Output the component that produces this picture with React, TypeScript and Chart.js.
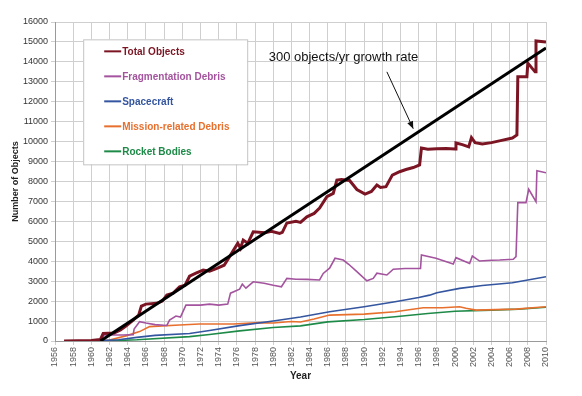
import React, { useEffect, useRef } from "react";
import { Chart, registerables } from "chart.js";

Chart.register(...registerables);

const FONT = "Arial, 'Liberation Sans', Helvetica, sans-serif";

// Year ticks
const xMin = 1956;
const xMax = 2010;
const yMax = 16000;

const totalYears = [1957, 1960, 1961, 1961.3, 1962.5, 1963.2, 1963.8, 1964.6, 1965.2, 1965.5, 1966, 1967.2, 1967.8, 1968.3, 1969, 1969.7, 1970.3, 1970.8, 1971.5, 1972.3, 1973, 1973.8, 1974.6, 1975.2, 1976.1, 1976.4, 1976.7, 1977.2, 1977.8, 1979.1, 1979.8, 1980.7, 1981, 1981.5, 1982.5, 1983, 1983.7, 1984.5, 1985.1, 1985.9, 1986.6, 1987, 1987.5, 1988.4, 1989.2, 1990.1, 1990.8, 1991.4, 1991.8, 1992.4, 1993.1, 1993.9, 1994.6, 1995.4, 1996.1, 1996.3, 1997, 1998, 1999, 2000, 2000.1, 2000.8, 2001.5, 2001.8, 2002.2, 2003, 2004, 2005, 2006.3, 2006.8, 2006.9, 2007.9, 2008, 2008.8, 2008.9, 2010];
const totalValues = [0, 30, 80, 380, 400, 550, 750, 1050, 1300, 1750, 1850, 1890, 2000, 2300, 2400, 2720, 2800, 3250, 3400, 3560, 3500, 3640, 3800, 4230, 4900, 4650, 5060, 4900, 5480, 5430, 5500, 5400, 5450, 5920, 6000, 5950, 6230, 6400, 6670, 7240, 7400, 8070, 8100, 8050, 7600, 7370, 7500, 7820, 7700, 7740, 8320, 8490, 8600, 8700, 8830, 9680, 9620, 9640, 9660, 9630, 9930, 9850, 9740, 10200, 9950, 9880, 9950, 10050, 10180, 10330, 13250, 13250, 13940, 13500, 15050, 15000];

const fragYears = [1957, 1961, 1961.4, 1963.5, 1964.6, 1964.7, 1965.3, 1966, 1967, 1968.3, 1968.6, 1969.3, 1969.8, 1970.4, 1972, 1973, 1974, 1975, 1975.3, 1976.3, 1976.6, 1977, 1977.8, 1979, 1980, 1980.9, 1981.5, 1982.5, 1983.7, 1985.1, 1985.5, 1986.2, 1986.8, 1987.7, 1988.3, 1989.2, 1990.3, 1991, 1991.4, 1992.5, 1993.2, 1994.5, 1996.2, 1996.3, 1997.9, 1999.8, 2000.1, 2001.6, 2001.9, 2002.7, 2004, 2004.9, 2006.4, 2006.7, 2006.9, 2007.8, 2008.1, 2008.9, 2009, 2010];
const fragValues = [0, 0, 300, 300, 320, 600, 970, 900, 820, 780, 1050, 1250, 1200, 1800, 1800, 1850, 1800, 1850, 2400, 2600, 2850, 2650, 2970, 2900, 2800, 2720, 3140, 3100, 3090, 3060, 3390, 3650, 4150, 4060, 3850, 3480, 3020, 3140, 3400, 3310, 3600, 3640, 3640, 4310, 4150, 3860, 4180, 3890, 4260, 4010, 4050, 4060, 4100, 4230, 6940, 6940, 7610, 6990, 8540, 8440];

const scYears = [1957, 1961, 1963, 1965, 1967, 1970.8, 1973, 1976.3, 1980, 1983, 1986.2, 1990, 1993.4, 1996, 1997.2, 1998, 2000.5, 2003, 2006.3, 2010];
const scValues = [0, 20, 60, 180, 280, 380, 530, 770, 1000, 1200, 1470, 1720, 1970, 2180, 2300, 2420, 2640, 2780, 2920, 3220];

const mrdYears = [1957, 1961, 1962, 1963.9, 1965.3, 1966.4, 1969.7, 1971.9, 1975.6, 1978.5, 1980, 1982, 1983, 1984.5, 1986.2, 1990, 1993.4, 1996.5, 1998.6, 2000.5, 2001.2, 2002.3, 2006.7, 2010];
const mrdValues = [0, 0, 50, 270, 470, 720, 800, 850, 850, 920, 900, 980, 950, 1100, 1300, 1350, 1470, 1670, 1670, 1720, 1640, 1550, 1600, 1720];

const rbYears = [1957, 1961, 1965, 1970.8, 1973, 1976.3, 1980, 1983, 1986, 1990, 1993.4, 1997, 2000, 2004, 2007, 2010];
const rbValues = [0, 0, 60, 220, 330, 510, 680, 760, 960, 1080, 1220, 1380, 1490, 1550, 1600, 1690];

const trendYears = [1961, 2010];
const trendValues = [0, 14700];

const seriesNames = ["Total Objects", "Fragmentation Debris", "Spacecraft", "Mission-related Debris", "Rocket Bodies"];
const seriesColors = ["#7B1523", "#A4549E", "#34559F", "#E8702E", "#1E8A48"];

const annotationText = "300 objects/yr growth rate";

const pts = (xs: number[], ys: number[]) => xs.map((x, i) => ({ x, y: ys[i] }));

const legendPlugin = {
  id: "customDecor",
  afterDatasetsDraw(chart: any) {
    const { ctx, scales } = chart;
    const xs = scales.x;
    const ys = scales.y;
    ctx.save();
    // legend box
    const bx = xs.getPixelForValue(1959.1);
    const by = ys.getPixelForValue(15130);
    const bw = 164;
    const bh = 125;
    ctx.fillStyle = "#ffffff";
    ctx.fillRect(bx, by, bw, bh);
    ctx.strokeStyle = "#c4c4c4";
    ctx.lineWidth = 1;
    ctx.strokeRect(bx + 0.5, by + 0.5, bw, bh);
    ctx.font = `bold 10px ${FONT}`;
    ctx.textBaseline = "middle";
    ctx.textAlign = "left";
    seriesNames.forEach((name, i) => {
      const cy = by + 12 + i * 25;
      ctx.strokeStyle = seriesColors[i];
      ctx.lineWidth = 2;
      ctx.beginPath();
      ctx.moveTo(bx + 21, cy);
      ctx.lineTo(bx + 38, cy);
      ctx.stroke();
      ctx.fillStyle = seriesColors[i];
      ctx.fillText(name, bx + 39, cy + 0.5);
    });
    // annotation
    ctx.fillStyle = "#111";
    ctx.font = `13px ${FONT}`;
    ctx.fillText(annotationText, xs.getPixelForValue(1979.5), ys.getPixelForValue(14200));
    const x1 = xs.getPixelForValue(1992.5);
    const y1 = ys.getPixelForValue(13500);
    const x2 = xs.getPixelForValue(1995.4);
    const y2 = ys.getPixelForValue(10650);
    ctx.strokeStyle = "#111";
    ctx.lineWidth = 1;
    ctx.beginPath();
    ctx.moveTo(x1, y1);
    ctx.lineTo(x2, y2);
    ctx.stroke();
    const ang = Math.atan2(y2 - y1, x2 - x1);
    const L = 8;
    ctx.fillStyle = "#111";
    ctx.beginPath();
    ctx.moveTo(x2, y2);
    ctx.lineTo(x2 - L * Math.cos(ang - 0.4), y2 - L * Math.sin(ang - 0.4));
    ctx.lineTo(x2 - L * Math.cos(ang + 0.4), y2 - L * Math.sin(ang + 0.4));
    ctx.closePath();
    ctx.fill();
    ctx.restore();
  },
};

export default function App() {
  const ref = useRef<HTMLCanvasElement>(null);
  useEffect(() => {
    if (!ref.current) return;
    const mk = (label: string, data: any, color: string, width: number, order: number) => ({
      label,
      data,
      borderColor: color,
      backgroundColor: color,
      borderWidth: width,
      pointRadius: 0,
      tension: 0,
      fill: false,
      order,
    });
    const chart = new Chart(ref.current, {
      type: "line",
      data: {
        datasets: [
          mk("300 objects/yr", pts(trendYears, trendValues), "#000000", 3, 0),
          mk(seriesNames[0], pts(totalYears, totalValues), seriesColors[0], 3, 1),
          mk(seriesNames[1], pts(fragYears, fragValues), seriesColors[1], 1.6, 2),
          mk(seriesNames[2], pts(scYears, scValues), seriesColors[2], 1.6, 3),
          mk(seriesNames[3], pts(mrdYears, mrdValues), seriesColors[3], 1.6, 4),
          mk(seriesNames[4], pts(rbYears, rbValues), seriesColors[4], 1.6, 5),
        ],
      },
      options: {
        animation: false,
        responsive: true,
        maintainAspectRatio: false,
        layout: { padding: { top: 22, right: 36, bottom: 0, left: 0 } },
        plugins: { legend: { display: false }, tooltip: { enabled: false } },
        scales: {
          x: {
            type: "linear",
            min: xMin,
            max: xMax,
            afterFit: (s: any) => { s.height = 55; },
            ticks: {
              stepSize: 2,
              minRotation: 90,
              maxRotation: 90,
              autoSkip: false,
              color: "#555",
              font: { family: FONT, size: 9 },
              padding: 2,
              callback: (v: any) => String(v),
            },
            grid: { color: "#cfcfcf", tickLength: 4, lineWidth: 1 },
            border: { color: "#9a9a9a" },
            title: {
              display: true,
              text: "Year",
              color: "#222",
              font: { family: FONT, size: 10, weight: "bold" },
              padding: { top: 0, bottom: 14 },
            },
          },
          y: {
            min: 0,
            max: yMax,
            afterFit: (s: any) => { s.width = 55; },
            ticks: {
              stepSize: 1000,
              color: "#333",
              font: { family: FONT, size: 9 },
              padding: 3,
              callback: (v: any) => String(v),
            },
            grid: { color: "#cfcfcf", tickLength: 4, lineWidth: 1 },
            border: { color: "#9a9a9a" },
            title: {
              display: true,
              text: "Number of Objects",
              color: "#222",
              font: { family: FONT, size: 9, weight: "bold" },
              padding: { top: 10, bottom: 0 },
            },
          },
        },
      },
      plugins: [legendPlugin],
    } as any);
    return () => chart.destroy();
  }, []);
  return (
    <div style={{ position: "fixed", left: 0, top: 0, width: 582, height: 396, background: "#fff" }}>
      <canvas ref={ref} />
    </div>
  );
}
